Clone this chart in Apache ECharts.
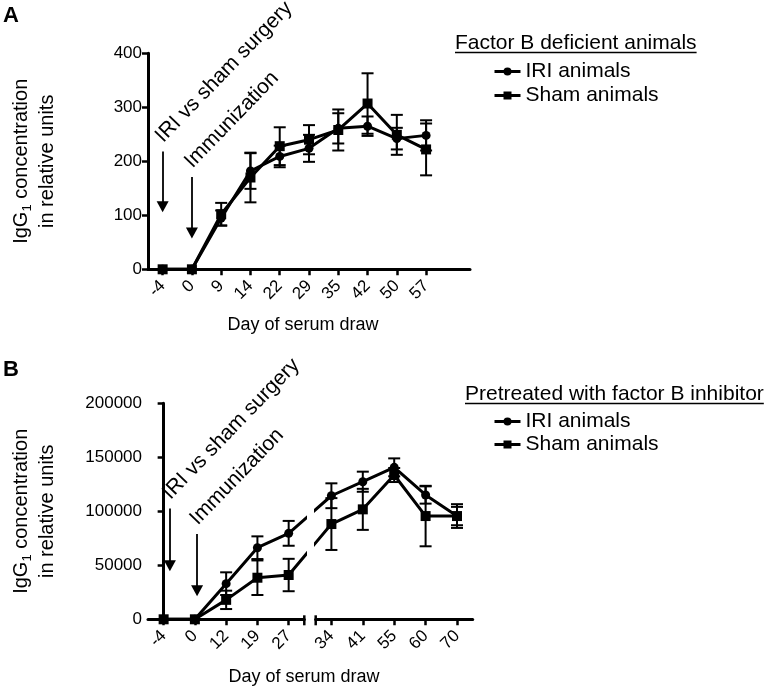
<!DOCTYPE html>
<html><head><meta charset="utf-8">
<script src="https://cdn.jsdelivr.net/npm/echarts@6/dist/echarts.min.js"></script>
<style>html,body{margin:0;padding:0;background:#fff}#c{width:767px;height:688px}</style>
</head><body><div id="c"></div><script>
const FONT = '"Liberation Sans", Arial, Helvetica, sans-serif';

// ---------- Panel A data ----------
const daysA = ['-4','0','9','14','22','29','35','42','50','57'];
const iriA = [0,0,95,182,209,224,261,265,242,248];
const iriErrA = [0,0,14,33,20,25,28,18,20,28];
const shamA = [0,0,102,170,228,240,258,307,249,222];
const shamErrA = [0,0,21,46,35,27,38,56,37,48];

// ---------- Panel B data ----------
const daysB1 = ['-4','0','12','19','27'];
const daysB2 = ['34','41','55','60','70'];
const iriB = [0,0,33000,66300,79600,114400,127400,140700,115100,95600];
const iriErrB = [0,0,10500,10500,11500,11500,9300,8300,8000,8500];
const shamB = [0,0,18000,38500,41000,88200,101800,133600,95600,95600];
const shamErrB = [0,0,8500,16000,15000,24000,19000,6500,28000,11000];

// axes
const yMaxA = 400, yStepA = 100;
const yMaxB = 200000, yStepB = 50000;

// annotations (arrow at category index, from value -> to value)
const notes = ['IRI vs sham surgery', 'Immunization'];
const arrowsA = [{x:0, from:218, to:116}, {x:1, from:171, to:67}];
const arrowsB = [{x:0.2, from:102600, to:49600}, {x:1.07, from:79000, to:26500}];

const legendTitleA = 'Factor B deficient animals';
const legendTitleB = 'Pretreated with factor B inhibitor';
const names = ['IRI animals', 'Sham animals'];
const xTitle = 'Day of serum draw';

// ---------- layout ----------
const GA = {left:148, top:53.3, width:322, height:216};
const GB1 = {left:148, top:403.3, width:156.3, height:216};
const GB2 = {left:315.7, top:403.3, width:157, height:216};
const band = GB1.width / daysB1.length;
const gapB = (GB2.left - (GB1.left + GB1.width)) / band;

const chart = echarts.init(document.getElementById('c'), null, {renderer:'canvas'});

function errRender(params, api){
  const x = api.value(0), v = api.value(1), e = api.value(2);
  if (!e) return null;
  const top = api.coord([x, v + e]), bot = api.coord([x, v - e]);
  const hw = 6, st = {stroke:'#000', lineWidth:2};
  return {type:'group', children:[
    {type:'line', shape:{x1:top[0], y1:top[1], x2:bot[0], y2:bot[1]}, style:st},
    {type:'line', shape:{x1:top[0]-hw, y1:top[1], x2:top[0]+hw, y2:top[1]}, style:st},
    {type:'line', shape:{x1:bot[0]-hw, y1:bot[1], x2:bot[0]+hw, y2:bot[1]}, style:st}
  ]};
}

const axisLineS = {show:true, lineStyle:{color:'#000', width:3}};
const tickS = {show:true, inside:false, length:6, lineStyle:{color:'#000', width:2.5}};
const labelS = {color:'#000', fontSize:17, fontFamily:FONT};

function catAxis(grid, data){
  return {type:'category', gridIndex:grid, data:data, boundaryGap:true,
    axisLine:axisLineS,
    axisTick:Object.assign({}, tickS, {alignWithLabel:true, interval:(i, v) => v !== ''}),
    axisLabel:Object.assign({}, labelS, {rotate:45, margin:14, interval:0}),
    splitLine:{show:false}};
}
const yName = '{n|IgG}{s|1}{n| concentration}\n{n|in relative units}';
const yNameStyle = {color:'#000', fontFamily:FONT, rich:{
  n:{fontSize:20, lineHeight:26, fontFamily:FONT, color:'#000'},
  s:{fontSize:13, lineHeight:26, fontFamily:FONT, color:'#000', verticalAlign:'bottom'}}};
function valAxis(grid, max, step, visible){
  return {type:'value', gridIndex:grid, min:0, max:max, interval:step, show:visible,
    axisLine:axisLineS, axisTick:tickS,
    axisLabel:Object.assign({}, labelS, {margin:6, formatter:v => String(v)}),
    splitLine:{show:false},
    name: visible ? yName : '', nameLocation:'middle', nameRotate:90, nameGap:88,
    nameTextStyle: yNameStyle};
}

function lineSeries(name, xi, yi, data, symbol, marks){
  const s = {type:'line', name:name, xAxisIndex:xi, yAxisIndex:yi, data:data,
    symbol:symbol, symbolSize:symbol === 'rect' ? 10 : 9, showSymbol:true, clip:true,
    lineStyle:{color:'#000', width:3}, itemStyle:{color:'#000'}, z:3, animation:false};
  if (marks) {
    s.markLine = {silent:true, animation:false, symbol:['none','triangle'], symbolSize:[12,11],
      label:{show:false}, lineStyle:{color:'#000', width:1.8, type:'solid'},
      data: marks.map(a => [{coord:[a.x, a.from]}, {coord:[a.x, a.to]}])};
  }
  return s;
}
function errSeries(xi, yi, data){
  return {type:'custom', xAxisIndex:xi, yAxisIndex:yi, renderItem:errRender, data:data, z:2, animation:false, silent:true};
}

// Panel A series data
const idxA = daysA.map((d,i) => i);
const errA_iri = idxA.map(i => [i, iriA[i], iriErrA[i]]);
const errA_sham = idxA.map(i => [i, shamA[i], shamErrA[i]]);

// Panel B series data (value x-axes carrying category index; lines cross the break and are clipped)
const n1 = daysB1.length;
function seg1(vals){
  const d = daysB1.map((_, i) => [i, vals[i]]);
  d.push({value:[n1 + gapB, vals[n1]], symbol:'none'});
  return d;
}
function seg2(vals){
  const d = daysB2.map((_, j) => [j, vals[n1 + j]]);
  d.unshift({value:[-1 - gapB, vals[n1 - 1]], symbol:'none'});
  return d;
}
const errB1 = (vals, errs) => daysB1.map((_, i) => [i, vals[i], errs[i]]);
const errB2 = (vals, errs) => daysB2.map((_, j) => [j, vals[n1 + j], errs[n1 + j]]);

const legendText = {color:'#000', fontSize:21, fontFamily:FONT};
const legendCommon = {orient:'vertical', left:488, itemWidth:26, itemHeight:10,
  data:names, textStyle:legendText, selectedMode:false,
  lineStyle:{width:3, color:'#000'}, itemStyle:{color:'#000'}};

const option = {
  backgroundColor:'#fff',
  animation:false,
  textStyle:{fontFamily:FONT},
  grid:[
    Object.assign({containLabel:false}, GA),
    Object.assign({containLabel:false}, GB1),
    Object.assign({containLabel:false}, GB2)
  ],
  xAxis:[
    catAxis(0, daysA.concat([''])),
    catAxis(1, daysB1),
    {type:'value', gridIndex:1, min:-0.5, max:n1 - 0.5, show:false},
    catAxis(2, daysB2),
    {type:'value', gridIndex:2, min:-0.5, max:daysB2.length - 0.5, show:false}
  ],
  yAxis:[
    valAxis(0, yMaxA, yStepA, true),
    valAxis(1, yMaxB, yStepB, true),
    valAxis(2, yMaxB, yStepB, false)
  ],
  legend:[
    Object.assign({top:56, itemGap:3}, legendCommon),
    Object.assign({top:406, itemGap:2}, legendCommon)
  ],
  series:[
    errSeries(0, 0, errA_iri),
    errSeries(0, 0, errA_sham),
    lineSeries(names[0], 0, 0, iriA, 'circle', arrowsA),
    lineSeries(names[1], 0, 0, shamA, 'rect'),
    errSeries(2, 1, errB1(iriB, iriErrB)),
    errSeries(2, 1, errB1(shamB, shamErrB)),
    lineSeries(names[0], 2, 1, seg1(iriB), 'circle', arrowsB),
    lineSeries(names[1], 2, 1, seg1(shamB), 'rect'),
    errSeries(4, 2, errB2(iriB, iriErrB)),
    errSeries(4, 2, errB2(shamB, shamErrB)),
    lineSeries(names[0], 4, 2, seg2(iriB), 'circle'),
    lineSeries(names[1], 4, 2, seg2(shamB), 'rect')
  ]
};
chart.setOption(option);

// ---------- decorations ----------
function textWidth(t, font){
  const c = document.createElement('canvas').getContext('2d');
  c.font = font; return c.measureText(t).width;
}
const g = [];
const ROT = 46 * Math.PI / 180;
function addNotes(finder, arrows){
  arrows.forEach((a, k) => {
    const p = chart.convertToPixel(finder, [a.x, a.from]);
    g.push({type:'text', x:p[0] + 4, y:p[1] - 5, rotation:ROT, originX:0, originY:0,
      style:{text:notes[k], x:0, y:0, align:'left', verticalAlign:'bottom',
        font:'21px ' + FONT, fill:'#000'}});
  });
}
addNotes({xAxisIndex:0, yAxisIndex:0}, arrowsA);
addNotes({xAxisIndex:2, yAxisIndex:1}, arrowsB);

// panel letters
g.push({type:'text', x:3, y:5, style:{text:'A', font:'bold 22px ' + FONT, fill:'#000', align:'left', verticalAlign:'top'}});
g.push({type:'text', x:3, y:359, style:{text:'B', font:'bold 22px ' + FONT, fill:'#000', align:'left', verticalAlign:'top'}});

// x-axis titles
g.push({type:'text', x:303, y:GA.top + GA.height + 56, style:{text:xTitle, font:'18px ' + FONT, fill:'#000', align:'center', verticalAlign:'middle'}});
g.push({type:'text', x:304, y:GB1.top + GB1.height + 58, style:{text:xTitle, font:'18px ' + FONT, fill:'#000', align:'center', verticalAlign:'middle'}});

// legend titles with underline
function legTitle(t, x, y){
  const f = '21px ' + FONT;
  const w = textWidth(t, f);
  g.push({type:'text', x:x, y:y, style:{text:t, font:f, fill:'#000', align:'left', verticalAlign:'middle'}});
  g.push({type:'line', shape:{x1:x, y1:y + 9.5, x2:x + w, y2:y + 9.5}, style:{stroke:'#000', lineWidth:1.5}});
}
legTitle(legendTitleA, 455, 43);
legTitle(legendTitleB, 465, 394);

// axis break marks on panel B
const bY = GB1.top + GB1.height;
[GB1.left + GB1.width, GB2.left].forEach(x => {
  g.push({type:'line', shape:{x1:x, y1:bY - 4, x2:x, y2:bY + 6}, style:{stroke:'#000', lineWidth:2.5}});
});

chart.setOption({graphic:g});
</script></body></html>
